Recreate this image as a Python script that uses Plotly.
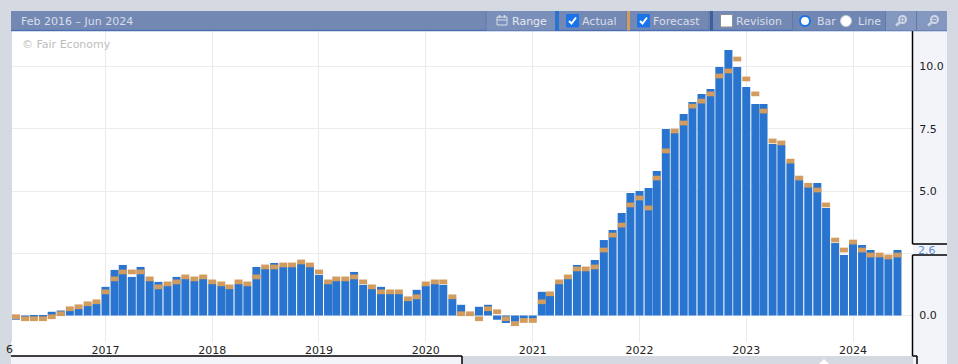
import datetime as dt
import plotly.graph_objects as go

# Monthly release dates: Mar 2016 .. Jun 2024 (100 bars)
start_year, start_month = 2016, 3
actual = [
    -0.17, -0.10, -0.05, -0.05, 0.15, 0.20, 0.20, 0.27, 0.39, 0.47,
    1.15, 1.83, 2.03, 1.55, 1.95, 1.39, 1.35, 1.19, 1.55, 1.47, 1.39, 1.47,
    1.27, 1.19, 1.07, 1.27, 1.19, 1.95, 1.87, 2.11, 1.95, 1.95, 2.07, 1.95,
    1.63, 1.27, 1.39, 1.39, 1.75, 1.23, 1.07, 1.15, 0.87, 0.87, 0.59, 1.03,
    1.19, 1.27, 1.23, 0.67, 0.43, 0.05, 0.35, 0.43, -0.17, -0.30, -0.25, -0.13,
    -0.13, 0.95, 0.79, 1.27, 1.47, 2.03, 1.79, 2.23, 3.03, 3.43, 4.12, 4.92,
    5.00, 5.12, 5.80, 7.49, 7.33, 8.09, 8.57, 8.90, 9.10, 9.98, 10.66, 9.98,
    9.18, 8.49, 8.49, 6.89, 6.85, 6.12, 5.44, 5.16, 5.32, 4.32, 2.91, 2.43,
    2.87, 2.83, 2.63, 2.35, 2.27, 2.63,
]
forecast = [
    -0.05, -0.13, -0.13, -0.13, -0.05, 0.07, 0.27, 0.35, 0.47, 0.55,
    0.95, 1.47, 1.75, 1.75, 1.75, 1.47, 1.15, 1.27, 1.35, 1.55, 1.47, 1.55,
    1.35, 1.27, 1.15, 1.35, 1.27, 1.55, 1.95, 1.95, 2.03, 2.03, 2.15, 2.03,
    1.75, 1.35, 1.47, 1.47, 1.55, 1.35, 1.15, 0.95, 0.95, 0.95, 0.67, 0.75,
    1.27, 1.35, 1.35, 0.75, 0.07, 0.07, -0.13, 0.27, 0.15, -0.13, -0.33, -0.20,
    -0.20, 0.55, 0.87, 1.35, 1.55, 1.87, 1.87, 1.95, 2.63, 3.23, 3.63, 4.44,
    4.72, 4.32, 5.52, 6.61, 7.41, 7.73, 8.41, 8.61, 8.90, 9.62, 9.82, 10.30,
    9.50, 8.90, 8.21, 7.01, 6.93, 6.20, 5.52, 5.23, 5.04, 4.44, 3.03, 2.63,
    2.95, 2.63, 2.43, 2.43, 2.35, 2.43,
]
year_ticks = ["2017-01-01", "2018-01-01", "2019-01-01", "2020-01-01",
              "2021-01-01", "2022-01-01", "2023-01-01", "2024-01-01"]
year_labels = ["2017", "2018", "2019", "2020", "2021", "2022", "2023", "2024"]
y_ticks = [0, 2.5, 5, 7.5, 10]
y_labels = ["0.0", "", "5.0", "7.5", "10.0"]

months = []
yy, mm = start_year, start_month
for _ in actual:
    months.append(f"{yy}-{mm:02d}-01")
    mm += 1
    if mm == 13:
        yy, mm = yy + 1, 1

W, H = 958, 364
L, R, T, B = 12, 913, 31, 342
GREY = "#d5d9e2"
PANEL = "#f3f4f9"
BAR_HEAD = "#7389b4"
TXT = "#d9deea"
BLUE = "#2874cf"
TAN = "#d39c5f"
FONT = "DejaVu Sans"
MONTH_MS = 30.44 * 86400000
BAND = 0.19


def px(x):
    return (x - L) / (R - L)


def py(y):
    return (B - y) / (B - T)


shapes = []


def rect(x0, y0, x1, y1, fill, layer="above", line=None, lw=1):
    shapes.append(dict(type="rect", xref="paper", yref="paper", layer=layer,
                       x0=px(x0), x1=px(x1), y0=py(y1), y1=py(y0), fillcolor=fill,
                       line=dict(color=line or fill, width=lw if line else 0)))


def seg(x0, y0, x1, y1, color="#000000", lw=1, layer="above"):
    shapes.append(dict(type="line", xref="paper", yref="paper", layer=layer,
                       x0=px(x0), x1=px(x1), y0=py(y0), y1=py(y1),
                       line=dict(color=color, width=lw)))


def circle(cx, cy, r, fill, line, lw=1):
    shapes.append(dict(type="circle", xref="paper", yref="paper", layer="above",
                       x0=px(cx - r), x1=px(cx + r), y0=py(cy + r), y1=py(cy - r),
                       fillcolor=fill, line=dict(color=line, width=lw)))


def poly(points, fill=None, line=None, lw=1, closed=False):
    d = "M" + " L".join(f"{px(a):.5f},{py(b):.5f}" for a, b in points)
    if closed:
        d += " Z"
    shapes.append(dict(type="path", xref="paper", yref="paper", layer="above", path=d,
                       fillcolor=fill or "rgba(0,0,0,0)",
                       line=dict(color=line or "rgba(0,0,0,0)", width=lw)))


annotations = []


def label(text, x, y, color=TXT, size=11, anchor="left"):
    annotations.append(dict(text=text, xref="paper", yref="paper", x=px(x), y=py(y),
                            xanchor=anchor, yanchor="middle", showarrow=False,
                            xshift=0, borderpad=0,
                            font=dict(family=FONT, size=size, color=color)))


# right-hand axis panel
rect(913, 11, 947, 364, PANEL, layer="below")
# white strip under the plot, and the navigator strip below it
rect(11, 342, 913, 356, "#ffffff", layer="below")
rect(11, 356, 462, 364, PANEL, layer="below")
seg(11, 356, 462, 356, lw=1.5)
seg(462, 356, 462, 364, lw=1.5)
seg(912.5, 255, 912.5, 356, lw=1.5)
seg(912.5, 356, 917, 356, lw=1.5)
seg(917, 356, 917, 364, lw=1.5)
seg(912.5, 30, 912.5, 244, lw=1.5)
seg(912.5, 244, 947, 244, lw=1.5)
seg(912.5, 255, 947, 255, lw=1.5)
rect(918, 357, 947, 364, PANEL)
poly([(819, 364), (824, 359), (829, 364)], fill="#ffffff", closed=True)

# header bar
rect(11, 11, 947, 30.5, BAR_HEAD)
seg(11, 30.5, 947, 30.5, color="#4a70b4", lw=1.5)
rect(486, 11, 555, 30.5, "#7a8fb9")
rect(792.5, 11, 885.5, 30.5, "#7187b3")
rect(886, 11, 916, 30.5, "#8497bf")
rect(917, 11, 947, 30.5, "#8497bf")
for xs in (486, 627, 709, 792.5, 885.5, 916.5):
    seg(xs, 11, xs, 30.5, color="#5f79aa")
rect(555, 11, 559, 30.5, BLUE)
rect(627, 11, 630, 30.5, TAN)
rect(710, 11, 713, 30.5, "#3f5f9c")

# calendar icon
rect(497, 17, 507, 25, "rgba(0,0,0,0)", line=TXT, lw=1)
seg(497, 20, 507, 20, color=TXT)
seg(499.5, 15, 499.5, 18, color=TXT, lw=1.5)
seg(504.5, 15, 504.5, 18, color=TXT, lw=1.5)

# check boxes
for cx, on in ((572.5, True), (643.5, True), (726.5, False)):
    rect(cx - 6, 14.5, cx + 6, 27, "#1a73e8" if on else "#ffffff",
         line="#1a73e8" if on else "#8a8f99")
    if on:
        poly([(cx - 3.5, 21), (cx - 1, 23.5), (cx + 3.5, 17.5)], line="#ffffff", lw=2)

# radio buttons
circle(805, 21, 5, "#ffffff", "#1a73e8", lw=2)
circle(846, 21, 5.5, "#ffffff", "#c8cdd8", lw=1)

# magnifier icons
for cx, cy in ((902.5, 19.5), (934.5, 19.5)):
    circle(cx, cy, 3.5, "rgba(0,0,0,0)", "#cdd5e6", lw=2)
    seg(cx - 3, cy + 3, cx - 6.5, cy + 6, color="#cdd5e6", lw=2.5)
seg(900.5, 19.5, 904.5, 19.5, color="#cdd5e6")
seg(902.5, 17.5, 902.5, 21.5, color="#cdd5e6")
seg(932.5, 19.5, 936.5, 19.5, color="#cdd5e6")

label("Feb 2016 – Jun 2024", 20, 21)
label("Range", 511, 21, color="#e6e9f1")
label("Actual", 581, 21)
label("Forecast", 652, 21)
label("Revision", 735, 21)
label("Bar", 816, 21)
label("Line", 857, 21)
label("© Fair Economy", 21, 44, color="#bdbdbd")
label("2.6", 917, 250, color="#5b8fd6", size=11)
label("6", 5, 349, color="#222222", size=11)

fig = go.Figure()
fig.add_bar(x=months, y=actual, width=0.9 * MONTH_MS, marker=dict(color=BLUE, line_width=0),
            name="Actual", showlegend=False)
fig.add_bar(x=months, y=[BAND] * len(forecast), base=[f - BAND / 2 for f in forecast],
            width=0.9 * MONTH_MS, marker=dict(color=TAN, line_width=0),
            name="Forecast", showlegend=False)

PX_PER_DAY = (853 - 105.5) / (dt.date(2024, 1, 1) - dt.date(2017, 1, 1)).days
PX_PER_UNIT = 24.9
ZERO_Y = 315.5
x_origin = dt.datetime(2017, 1, 1)
x_range = [x_origin - dt.timedelta(days=(105.5 - L) / PX_PER_DAY),
           x_origin + dt.timedelta(days=(R - 105.5) / PX_PER_DAY)]
y_range = [(ZERO_Y - B) / PX_PER_UNIT, (ZERO_Y - T) / PX_PER_UNIT]

fig.update_layout(
    width=W, height=H, autosize=False,
    margin=dict(l=L, r=W - R, t=T, b=H - B, pad=0, autoexpand=False),
    paper_bgcolor=GREY, plot_bgcolor="#ffffff",
    barmode="overlay", showlegend=False,
    font=dict(family=FONT, size=11, color="#222222"),
    shapes=shapes, annotations=annotations,
    xaxis=dict(type="date", range=x_range, tickmode="array", tickvals=year_ticks,
               ticktext=year_labels, showgrid=True, gridcolor="#e8eaf3", gridwidth=1,
               zeroline=False, showline=False, ticks="", tickangle=0, automargin=False,
               tickfont=dict(family=FONT, size=11, color="#222222")),
    yaxis=dict(range=y_range, side="right", tickmode="array", tickvals=y_ticks,
               ticktext=y_labels, showgrid=True, gridcolor="#ececf1", gridwidth=1,
               zeroline=False, showline=False, ticks="outside", ticklen=3, tickcolor="rgba(0,0,0,0)",
               automargin=False, tickfont=dict(family=FONT, size=11, color="#222222")),
)
fig.write_html("out.html", config=dict(displayModeBar=False),
               post_script="document.body.style.margin='0';document.body.style.overflow='hidden';")
